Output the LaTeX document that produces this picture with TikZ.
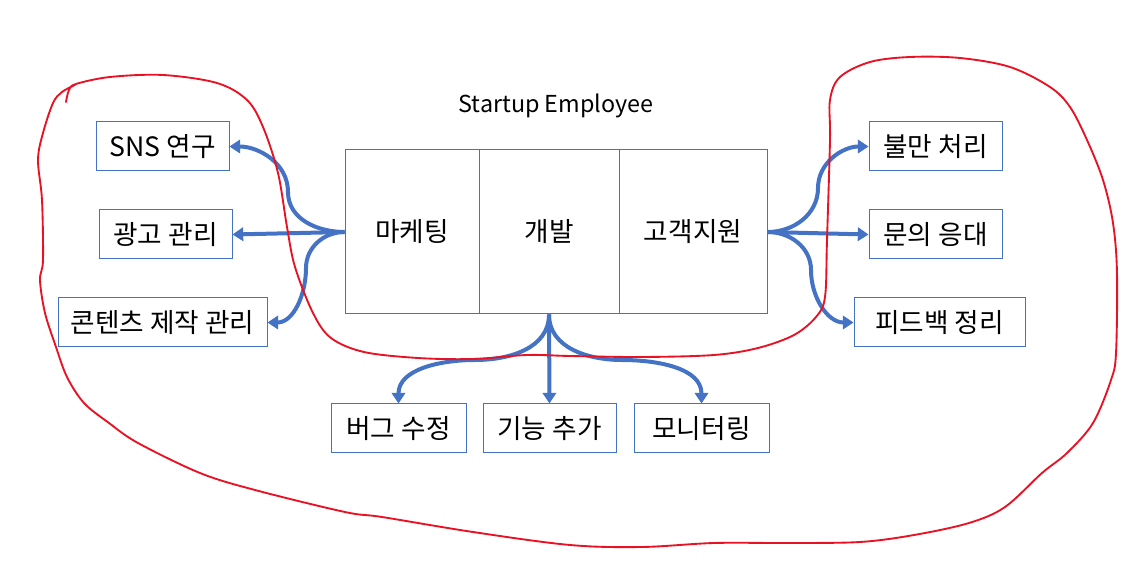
\documentclass[tikz,border=0pt]{standalone}
\usepackage{fontspec}
\setmainfont{Noto Sans CJK KR}
\usetikzlibrary{arrows.meta}
\definecolor{boxblue}{HTML}{4472C4}
\definecolor{penred}{RGB}{232,18,36}
\begin{document}
\begin{tikzpicture}[x=0.75pt,y=0.75pt,
  box/.style={draw=boxblue,line width=0.75pt,minimum height=36.75pt,inner sep=0pt,font=\fontsize{20}{24}\selectfont},
  cell/.style={box,minimum height=123pt},
  arr/.style={draw=boxblue,line width=3pt,-{Triangle[length=8pt,width=10pt]}},
  pen/.style={draw=penred,line width=1.4pt,line cap=round,line join=round}]
\useasboundingbox (0,0) rectangle (1139,-566);
\fill[white] (0,0) rectangle (1139,-566);
% title
\node[font=\fontsize{17.5}{21}\selectfont] (title) at (556,-106) {Startup Employee};
% main box
\node[cell,minimum width=100.5pt] (mk) at (412,-232) {마케팅};
\node[cell,minimum width=105pt] (dev) at (549,-232) {개발};
\node[cell,minimum width=111pt] (cs) at (693,-232) {고객지원};
% left
\node[box,minimum width=99.75pt] (sns) at (162.5,-146.5) {SNS 연구};
\node[box,minimum width=99.75pt] (ad) at (165.5,-234.5) {광고 관리};
\node[box,minimum width=156.75pt] (cont) at (162.5,-322.5) {콘텐츠 제작 관리};
% right
\node[box,minimum width=99.75pt] (comp) at (935.5,-146.5) {불만 처리};
\node[box,minimum width=99.75pt] (inq) at (935.5,-234.5) {문의 응대};
\node[box,minimum width=128.25pt] (fb) at (939.5,-322.5) {피드백 정리};
% bottom
\node[box,minimum width=101.25pt] (bug) at (398.5,-428.5) {버그 수정};
\node[box,minimum width=99.75pt] (feat) at (549.5,-428.5) {기능 추가};
\node[box,minimum width=101.25pt] (mon) at (701.5,-428.5) {모니터링};
% bend points
\coordinate (c1) at (288,-192);
\coordinate (c2) at (306,-268);
\coordinate (c3) at (818,-188);
\coordinate (c4) at (811,-270);
\coordinate (c5) at (475,-360);
\coordinate (c6) at (622,-360);
% arrows
\draw[arr] (mk.west) to[out=180,in=-90] (c1) to[out=90,in=0] (sns.east);
\draw[arr] (mk.west) -- (ad.east);
\draw[arr] (mk.west) to[out=180,in=90] (c2) to[out=-90,in=0] (cont.east);
\draw[arr] (cs.east) to[out=0,in=-90] (c3) to[out=90,in=180] (comp.west);
\draw[arr] (cs.east) -- (inq.west);
\draw[arr] (cs.east) to[out=0,in=90] (c4) to[out=-90,in=180] (fb.west);
\draw[arr] (dev.south) to[out=-90,in=0] (c5) to[out=180,in=90] (bug.north);
\draw[arr] (dev.south) -- (feat.north);
\draw[arr] (dev.south) to[out=-90,in=180] (c6) to[out=0,in=90] (mon.north);
% red freehand loop
\draw[pen] plot[smooth,tension=0.55] coordinates {
 (66,-102) (69,-90) (76,-84) (110,-77) (163,-75) (217,-83) (247,-100) (263,-127)
 (278,-173) (287,-227) (295,-267) (313,-313) (331,-338) (364,-352) (418,-358)
 (473,-359) (527,-355) (570,-356) (642,-357) (714,-355) (758,-348) (794,-335)
 (816,-317) (825,-297) (827,-240) (830,-140) (830,-100) (840,-77) (870,-62)
 (910,-57) (960,-58) (1010,-67) (1050,-87) (1070,-107) (1087,-140) (1103,-180)
 (1113,-223) (1117,-273) (1116,-353) (1111,-380) (1093,-423) (1067,-453)
 (1042,-473) (1005,-507) (969,-523) (914,-535) (860,-542) (787,-543) (714,-543)
 (642,-547) (570,-545) (473,-532) (382,-517) (345,-512) (255,-490) (200,-473)
 (138,-443) (109,-423) (84,-403) (67,-377) (56,-347) (45,-313) (40,-280)
 (43,-260) (42,-200) (38,-160) (43,-133) (53,-103) (62,-92) (75,-85)};
\end{tikzpicture}
\end{document}
